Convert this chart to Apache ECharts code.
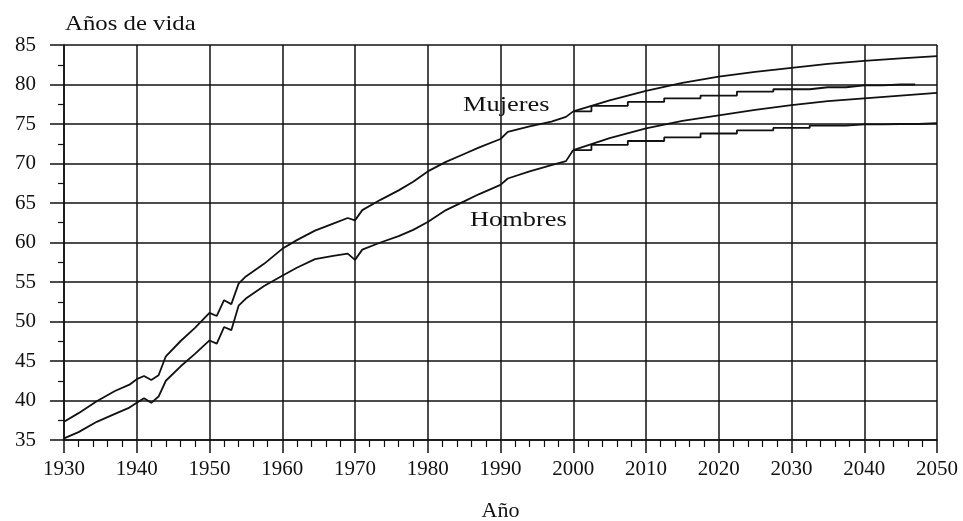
<!DOCTYPE html>
<html>
<head>
<meta charset="utf-8">
<script src="https://cdn.jsdelivr.net/npm/echarts@6/dist/echarts.min.js"></script>
<style>
html,body{margin:0;padding:0;background:#fff;}
#c{width:963px;height:521px;}
</style>
</head>
<body>
<div id="c"></div>
<script>
// Historical years (shared by both series)
var histYears = [1930,1932,1934.5,1937,1939,1940,1941,1942,1943,1944,1946,1948,1950,1951,1952,1953,1954,1955,1957.5,1960,1962,1964.5,1967,1969,1970,1971,1973.5,1976,1978,1980,1982.5,1985,1987,1990,1991,1994,1997,1999,2000];
var mujeresHist = [37.3,38.4,39.9,41.2,42.0,42.7,43.1,42.6,43.2,45.6,47.5,49.2,51.1,50.7,52.7,52.2,54.8,55.7,57.3,59.2,60.3,61.5,62.4,63.1,62.8,64.1,65.4,66.6,67.7,69.0,70.2,71.2,72.0,73.1,74.0,74.7,75.3,75.9,76.6];
var hombresHist = [35.2,36.0,37.3,38.3,39.1,39.7,40.3,39.7,40.5,42.5,44.3,45.9,47.6,47.2,49.3,48.9,52.0,52.9,54.5,55.8,56.8,57.9,58.3,58.6,57.8,59.1,60.0,60.8,61.6,62.6,64.1,65.2,66.1,67.3,68.1,69.0,69.8,70.3,71.7];

// Projections
var projYears = [2000,2005,2010,2015,2020,2025,2030,2035,2040,2045,2050];
var mujeresAlta = [76.6,78.0,79.2,80.2,81.0,81.6,82.1,82.6,83.0,83.3,83.6];
var hombresAlta = [71.7,73.2,74.45,75.4,76.1,76.8,77.4,77.9,78.25,78.6,78.95];
var mujeresBajaYears = [2000,2005,2010,2015,2020,2025,2030,2035,2040,2045,2047];
var mujeresBaja = [76.6,77.3,77.8,78.25,78.6,79.1,79.4,79.65,79.9,80.0,80.0];
var hombresBaja = [71.7,72.35,72.85,73.3,73.8,74.2,74.5,74.8,74.95,75.0,75.1];

var xTicks = [1930,1940,1950,1960,1970,1980,1990,2000,2010,2020,2030,2040,2050];
var yTicks = [35,40,45,50,55,60,65,70,75,80,85];

function pairs(xs, ys){ return xs.map(function(x,i){ return [x, ys[i]]; }); }

var FONT = 'Liberation Serif';
var INK = '#111';

var lineStyle = {color: INK, width: 1.8};
function mk(name, data, step){
  var s = {name:name, type:'line', data:data, showSymbol:false, symbol:'none',
    lineStyle:lineStyle, itemStyle:{color:INK}, animation:false, silent:true, z:5};
  if(step) s.step = step;
  return s;
}

var chart = echarts.init(document.getElementById('c'), null, {renderer:'canvas'});
chart.setOption({
  backgroundColor:'#fff',
  animation:false,
  grid:{left:64, right:26, top:45, bottom:81, containLabel:false, outerBoundsMode:'none'},
  xAxis:{type:'value', min:xTicks[0], max:xTicks[xTicks.length-1], interval:10,
    name:'Año', nameLocation:'middle', nameGap:60,
    nameTextStyle:{fontFamily:FONT, fontSize:22, color:INK},
    axisLine:{show:true, lineStyle:{color:INK, width:1.5}},
    axisTick:{show:true, inside:false, length:13, lineStyle:{color:INK, width:1.5}},
    minorTick:{show:true, splitNumber:5, length:7, lineStyle:{color:INK, width:1.2}},
    splitLine:{show:true, lineStyle:{color:INK, width:1.5}},
    axisLabel:{fontFamily:FONT, fontSize:21, color:INK, margin:19,
      formatter:function(v){ return String(v); }}
  },
  yAxis:{type:'value', min:yTicks[0], max:yTicks[yTicks.length-1], interval:5,
    axisLine:{show:true, lineStyle:{color:INK, width:1.5}},
    axisTick:{show:true, inside:false, length:14, lineStyle:{color:INK, width:1.5}},
    minorTick:{show:true, splitNumber:2, length:6, lineStyle:{color:INK, width:1.2}},
    splitLine:{show:true, lineStyle:{color:INK, width:1.5}},
    axisLabel:{fontFamily:FONT, fontSize:21, color:INK, margin:28}
  },
  series:[
    mk('Mujeres', pairs(histYears, mujeresHist)),
    mk('Hombres', pairs(histYears, hombresHist)),
    mk('Mujeres alta', pairs(projYears, mujeresAlta)),
    mk('Hombres alta', pairs(projYears, hombresAlta)),
    mk('Mujeres baja', pairs(mujeresBajaYears, mujeresBaja), 'middle'),
    mk('Hombres baja', pairs(projYears, hombresBaja), 'middle')
  ],
  graphic:[
    {type:'text', x:65, y:14, scaleX:1.18, z:10, style:{text:'Años de vida', fontFamily:FONT, fontSize:21, fill:INK}},
    {type:'text', x:463, y:94, scaleX:1.2, z:10, style:{text:'Mujeres', fontFamily:FONT, fontSize:22, fill:INK}},
    {type:'text', x:470, y:209, scaleX:1.2, z:10, style:{text:'Hombres', fontFamily:FONT, fontSize:22, fill:INK}}
  ]
});
</script>
</body>
</html>
